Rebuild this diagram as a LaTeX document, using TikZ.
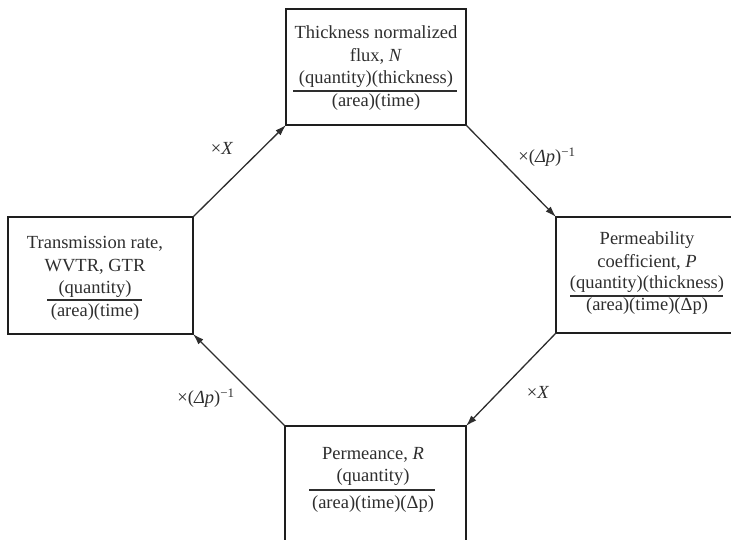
\documentclass[tikz,border=0pt]{standalone}
\usepackage{fontspec}
\setmainfont{Liberation Serif}
\usetikzlibrary{arrows.meta}
\definecolor{ink}{HTML}{2E2E2E}
\definecolor{frame}{HTML}{1E1E1E}
\tikzset{
  box/.style={draw=frame, line width=2.4pt, rectangle, inner sep=0pt, outer sep=0pt, anchor=north west},
  txt/.style={anchor=base, text=ink, font=\fontsize{18.5}{22}\selectfont, inner sep=0pt},
  fracrule/.style={draw=ink, line width=1.1pt},
  conn/.style={draw=ink, line width=1.3pt, -{Latex[length=11pt,width=7pt]}},
  lbl/.style={text=ink, font=\fontsize{18.5}{22}\selectfont, inner sep=0pt}
}
\begin{document}
\begin{tikzpicture}[x=1pt,y=-1pt]
\useasboundingbox (0,0) rectangle (731,540);
% boxes
\node[box, minimum width=180pt, minimum height=116pt] (N) at (286,9) {};
\node[box, minimum width=200pt, minimum height=116pt] (P) at (556,217) {};
\node[box, minimum width=185pt, minimum height=117pt] (T) at (8,217) {};
\node[box, minimum width=181pt, minimum height=130pt] (R) at (285,426) {};
% top box text
\node[txt] (n1) at (376,39) {Thickness normalized};
\node[txt] (n2) at (376,62) {flux, \textit{N}};
\node[txt] (n3) at (376,84) {(quantity)(thickness)};
\draw[fracrule] (293,91) -- (457,91);
\node[txt] (n4) at (376,107) {(area)(time)};
% right box text
\node[txt] (p1) at (647,244) {Permeability};
\node[txt] (p2) at (647,267) {coefficient, \textit{P}};
\node[txt] (p3) at (647,288) {(quantity)(thickness)};
\draw[fracrule] (570,296) -- (723,296);
\node[txt] (p4) at (647,310) {(area)(time)(Δp)};
% left box text
\node[txt] (t1) at (95,248) {Transmission rate,};
\node[txt] (t2) at (95,271) {WVTR, GTR};
\node[txt] (t3) at (95,293) {(quantity)};
\draw[fracrule] (47,300) -- (142,300);
\node[txt] (t4) at (95,316) {(area)(time)};
% bottom box text
\node[txt] (r1) at (373,459) {Permeance, \textit{R}};
\node[txt] (r2) at (373,481) {(quantity)};
\draw[fracrule] (309,490) -- (435,490);
\node[txt] (r3) at (373,508) {(area)(time)(Δp)};
% connectors
\draw[conn] (N.south east) -- (P.north west);
\draw[conn] (P.south west) -- (R.north east);
\draw[conn] (R.north west) -- (T.south east);
\draw[conn] (T.north east) -- (N.south west);
% labels
\node[lbl] (l1) at (222,148) {×\textit{X}};
\node[lbl] (l2) at (547,157) {×(\textit{Δp})\textsuperscript{−1}};
\node[lbl] (l3) at (538,392) {×\textit{X}};
\node[lbl] (l4) at (206,398) {×(\textit{Δp})\textsuperscript{−1}};
\end{tikzpicture}
\end{document}
